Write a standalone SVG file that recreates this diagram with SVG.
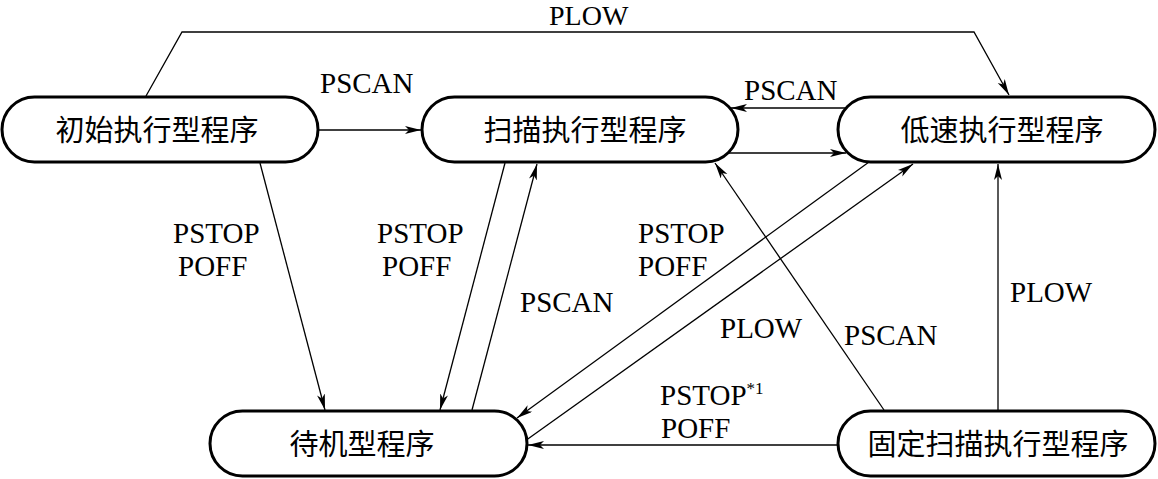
<svg xmlns="http://www.w3.org/2000/svg" width="1158" height="479" viewBox="0 0 1158 479">
<style>
.node{fill:#fff;stroke:#000;stroke-width:3}
.nt{font-family:"Noto Sans CJK SC","Noto Sans CJK JP",sans-serif;font-size:29px;fill:#000;text-anchor:middle}
.lb{font-family:"Liberation Serif","Times New Roman",serif;font-size:29px;fill:#000}
.sup{font-size:17px}
.c{fill:none;stroke:#000;stroke-width:1.3}
</style>
<defs>
<marker id="ah" markerUnits="userSpaceOnUse" markerWidth="17" markerHeight="10" refX="16" refY="4" orient="auto">
<path d="M0,0 L16,4 L0,8 L4,4 z" fill="#000"/>
</marker>
</defs>
<rect width="1158" height="479" fill="#fff"/>
<g id="connectors">
<polyline class="c" points="146,96 182,32 974,32 1009,95" marker-end="url(#ah)"/>
<line class="c" x1="318" y1="130" x2="421" y2="130" marker-end="url(#ah)"/>
<line class="c" x1="846" y1="108" x2="731" y2="108" marker-end="url(#ah)"/>
<line class="c" x1="729" y1="153" x2="846" y2="153" marker-end="url(#ah)"/>
<line class="c" x1="260" y1="163" x2="325" y2="410" marker-end="url(#ah)"/>
<line class="c" x1="505" y1="163" x2="440" y2="410" marker-end="url(#ah)"/>
<line class="c" x1="472" y1="410" x2="537" y2="164" marker-end="url(#ah)"/>
<line class="c" x1="869" y1="162" x2="517" y2="418" marker-end="url(#ah)"/>
<line class="c" x1="525" y1="441" x2="913" y2="164" marker-end="url(#ah)"/>
<line class="c" x1="884" y1="410" x2="715" y2="163" marker-end="url(#ah)"/>
<line class="c" x1="998" y1="410" x2="998" y2="164" marker-end="url(#ah)"/>
<line class="c" x1="838" y1="445" x2="528" y2="445" marker-end="url(#ah)"/>
</g>
<g id="labels">
<text class="lb" x="549" y="25" style="font-size:28px">PLOW</text>
<text class="lb" x="320" y="93">PSCAN</text>
<text class="lb" x="744" y="100">PSCAN</text>
<text class="lb" x="173" y="243">PSTOP</text>
<text class="lb" x="178" y="276">POFF</text>
<text class="lb" x="377" y="243">PSTOP</text>
<text class="lb" x="382" y="276">POFF</text>
<text class="lb" x="520" y="312">PSCAN</text>
<text class="lb" x="638" y="243">PSTOP</text>
<text class="lb" x="638" y="276">POFF</text>
<text class="lb" x="720" y="338">PLOW</text>
<text class="lb" x="844" y="345">PSCAN</text>
<text class="lb" x="1010" y="302">PLOW</text>
<text class="lb" x="660" y="405">PSTOP<tspan class="sup" dy="-11">*1</tspan></text>
<text class="lb" x="661" y="438">POFF</text>
</g>
<g id="n-init">
<rect class="node" x="2" y="97" width="316" height="65" rx="32.5"/>
<text class="nt" x="157" y="141">初始执行型程序</text>
</g>
<g id="n-scan">
<rect class="node" x="422" y="97" width="316" height="65" rx="32.5"/>
<text class="nt" x="585" y="141">扫描执行型程序</text>
</g>
<g id="n-low">
<rect class="node" x="838" y="97" width="317" height="65" rx="32.5"/>
<text class="nt" x="1002" y="141">低速执行型程序</text>
</g>
<g id="n-standby">
<rect class="node" x="210" y="411" width="317" height="65" rx="32.5"/>
<text class="nt" x="362" y="455">待机型程序</text>
</g>
<g id="n-fixed">
<rect class="node" x="838" y="411" width="317" height="65" rx="32.5"/>
<text class="nt" x="998" y="455">固定扫描执行型程序</text>
</g>
</svg>
